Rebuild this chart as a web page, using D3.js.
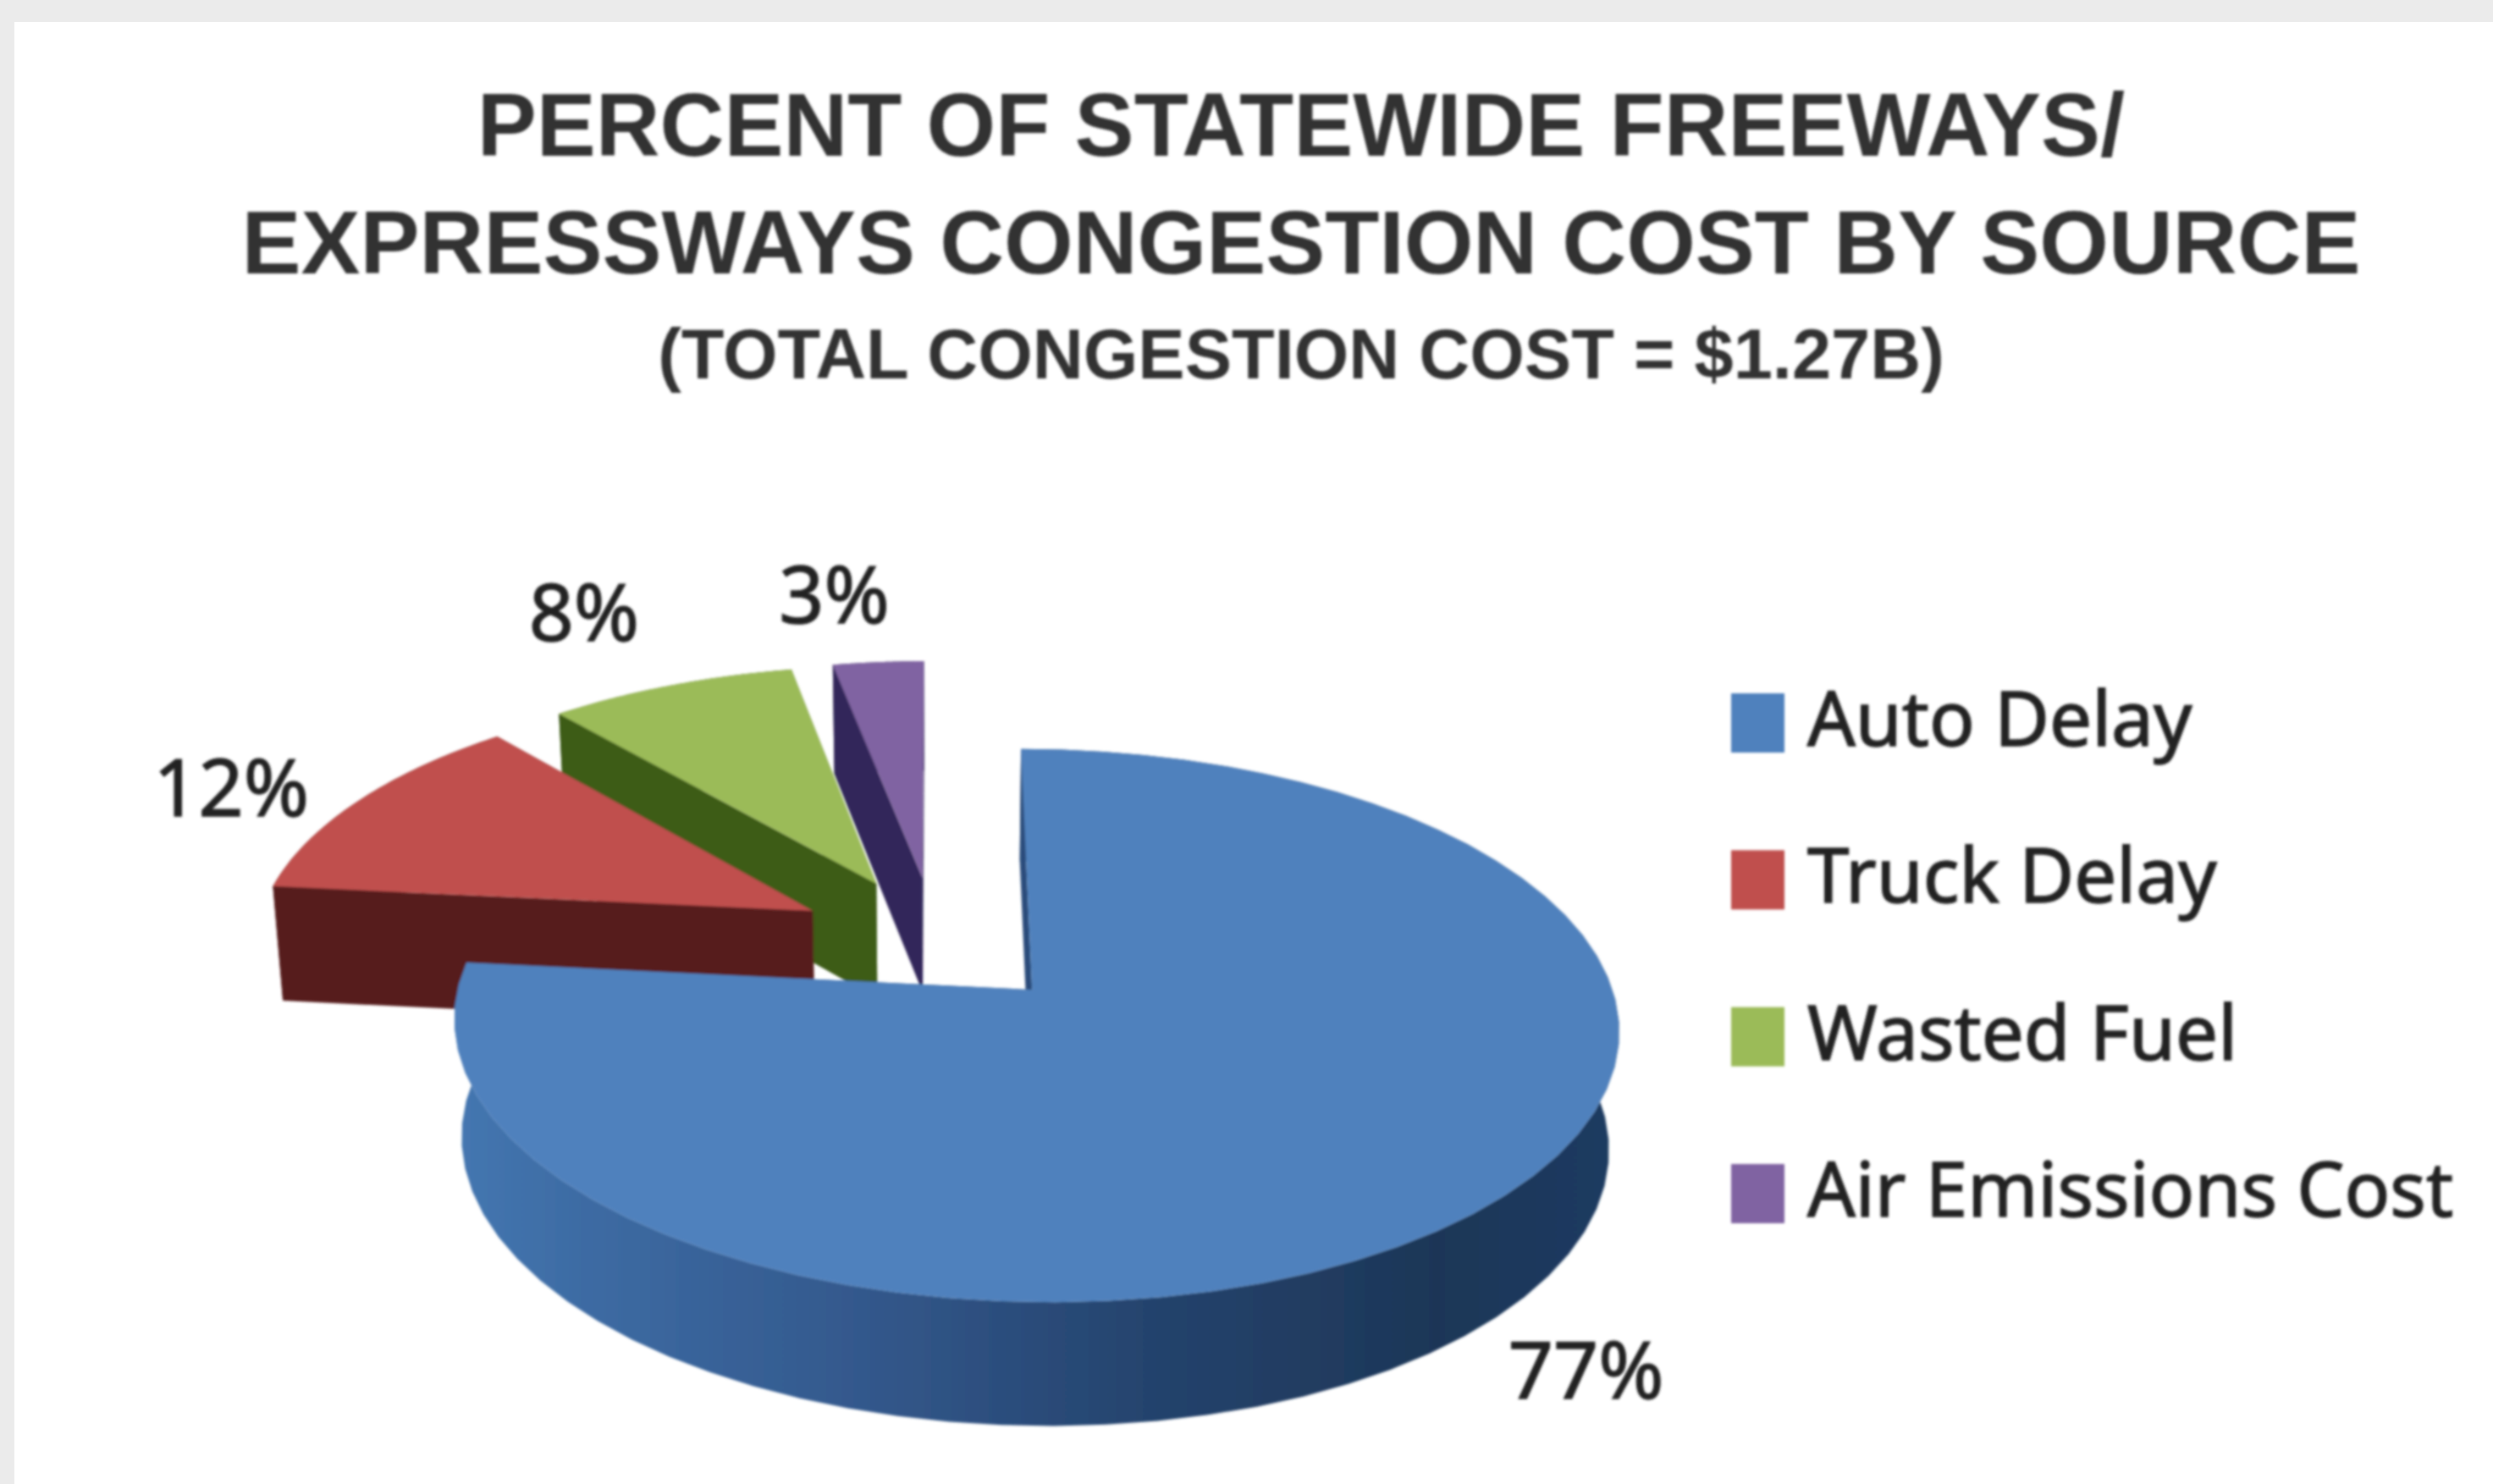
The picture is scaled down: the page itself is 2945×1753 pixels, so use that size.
<!DOCTYPE html>
<html>
<head>
<meta charset="utf-8">
<script src="https://cdn.jsdelivr.net/npm/d3@7"></script>
<style>
  html, body { margin: 0; padding: 0; background: #fff; }
  svg { display: block; }
</style>
</head>
<body>
<script>
// chart data. Labels are rounded, the slice angles give the decimals.
const categories = ['Auto Delay', 'Truck Delay', 'Wasted Fuel', 'Air Emissions Cost'];
const values = [76.6, 12.2, 8.2, 3.0];
const titleLines = [
    'PERCENT OF STATEWIDE FREEWAYS/',
    'EXPRESSWAYS CONGESTION COST BY SOURCE',
    '(TOTAL CONGESTION COST = $1.27B)'
];

const width = 2945;
const height = 1753;

const topColors = ['#4f81bd', '#c0504d', '#9bbb59', '#8064a2'];
const wallColors = ['url(#autoWall)', '#561b1b', '#3c5c16', '#33285a'];

// Projection of the tilted pie plane. Fitted to the reference, the far side shrinks a bit.
const cx = 1105, cy = 1111;
const radiusX = 665, radiusY = 306, tilt = 0.1266, tiltX = -0.005;
const explode = 0.25;
const depth = 137;
const baseShrink = 0.985;

function project(x, y, lowered) {
    const w = 1 + tilt * y + tiltX * x;
    const px = radiusX * x / w;
    const py = -radiusY * y / w;
    if (lowered) {
        return [cx + px * baseShrink, cy + py + depth / Math.pow(w, 0.4)];
    }
    return [cx + px, cy + py];
}

const svg = d3.select('body')
    .append('svg')
    .attr('width', width)
    .attr('height', height);

const defs = svg.append('defs');

// the source is a blown up small image, so everything is a little soft
defs.append('filter').attr('id', 'soft')
    .attr('filterUnits', 'userSpaceOnUse')
    .attr('x', 0).attr('y', 0).attr('width', width).attr('height', height)
    .append('feGaussianBlur').attr('stdDeviation', 1.8);

const wallGradient = defs.append('linearGradient')
    .attr('id', 'autoWall')
    .attr('gradientUnits', 'userSpaceOnUse')
    .attr('x1', 540).attr('x2', 1900).attr('y1', 0).attr('y2', 0);
[['0', '#4476b0'], ['0.12', '#3c6aa2'], ['0.35', '#33588c'], ['0.6', '#24436d'], ['0.85', '#1d3657'], ['1', '#1a3a60']]
    .forEach(d => wallGradient.append('stop').attr('offset', d[0]).attr('stop-color', d[1]));

// faint grey strip along the top and left of the white panel
svg.append('rect').attr('width', width).attr('height', 26).attr('fill', '#ebebeb');
svg.append('rect').attr('width', 17).attr('height', height).attr('fill', '#ebebeb');

const root = svg.append('g').attr('filter', 'url(#soft)');

// Title
const titleY = d3.scaleOrdinal().domain(titleLines).range([184, 323, 447]);
const titleSize = d3.scaleOrdinal().domain(titleLines).range([105, 105, 83]);
root.selectAll('text.title')
    .data(titleLines)
    .enter()
    .append('text')
    .attr('class', 'title')
    .attr('x', 1537)
    .attr('y', d => titleY(d))
    .attr('text-anchor', 'middle')
    .attr('font-family', '"Liberation Sans", Arial, sans-serif')
    .attr('font-weight', 'bold')
    .attr('font-size', d => titleSize(d))
    .attr('fill', '#333333')
    .text(d => d);

// Slices, clockwise from 12 o'clock
const pie = d3.pie().sort(null).value(d => d)(values);
const line = d3.line();

function rim(slice, lowered) {
    const mid = (slice.startAngle + slice.endAngle) / 2;
    const ox = explode * Math.sin(mid);
    const oy = explode * Math.cos(mid);
    return d3.range(0, 61).map(i => {
        const a = slice.startAngle + (slice.endAngle - slice.startAngle) * i / 60;
        return project(ox + Math.sin(a), oy + Math.cos(a), lowered);
    });
}

function apex(slice, lowered) {
    const mid = (slice.startAngle + slice.endAngle) / 2;
    return project(explode * Math.sin(mid), explode * Math.cos(mid), lowered);
}

// back slices first, the big front slice last
const drawOrder = [3, 2, 1, 0];
drawOrder.forEach(i => {
    const slice = pie[i];
    const g = root.append('g').attr('class', 'slice');
    const top = rim(slice, false);
    const base = rim(slice, true);
    const last = top.length - 1;

    // cut faces
    g.append('path')
        .attr('d', line([apex(slice, false), top[0], base[0], apex(slice, true)]) + 'Z')
        .attr('fill', wallColors[i]);
    g.append('path')
        .attr('d', line([apex(slice, false), top[last], base[last], apex(slice, true)]) + 'Z')
        .attr('fill', wallColors[i]);
    // outer wall
    g.append('path')
        .attr('d', line(top.concat(base.slice().reverse())) + 'Z')
        .attr('fill', wallColors[i]);
    // top face
    g.append('path')
        .attr('d', line([apex(slice, false)].concat(top)) + 'Z')
        .attr('fill', topColors[i]);
});

// Value labels, nudged off the middle of each rim
const labelNudge = [[134, 218], [-150, 18], [-102, -53], [-52, -46]];
const percent = d3.format('.0f');
root.selectAll('text.value')
    .data(pie)
    .enter()
    .append('text')
    .attr('class', 'value')
    .attr('x', (d, i) => rim(d, false)[30][0] + labelNudge[i][0])
    .attr('y', (d, i) => rim(d, false)[30][1] + labelNudge[i][1])
    .attr('text-anchor', 'middle')
    .attr('font-family', '"Noto Sans", sans-serif')
    .attr('font-size', 93)
    .attr('fill', '#222222')
    .attr('stroke', '#222222')
    .attr('stroke-width', 1.5)
    .text(d => percent(d.value) + '%');

// Legend
const legendY = d3.scalePoint().domain(categories).range([854, 1410]);
const legend = root.selectAll('g.legend')
    .data(categories)
    .enter()
    .append('g')
    .attr('class', 'legend')
    .attr('transform', d => `translate(2045,${legendY(d)})`);
legend.append('rect')
    .attr('y', -35)
    .attr('width', 63)
    .attr('height', 70)
    .attr('fill', (d, i) => topColors[i]);
legend.append('text')
    .attr('x', 90)
    .attr('y', 27)
    .attr('font-family', '"Noto Sans", sans-serif')
    .attr('font-size', 89)
    .attr('fill', '#222222')
    .attr('stroke', '#222222')
    .attr('stroke-width', 1.5)
    .text(d => d);
</script>
</body>
</html>
